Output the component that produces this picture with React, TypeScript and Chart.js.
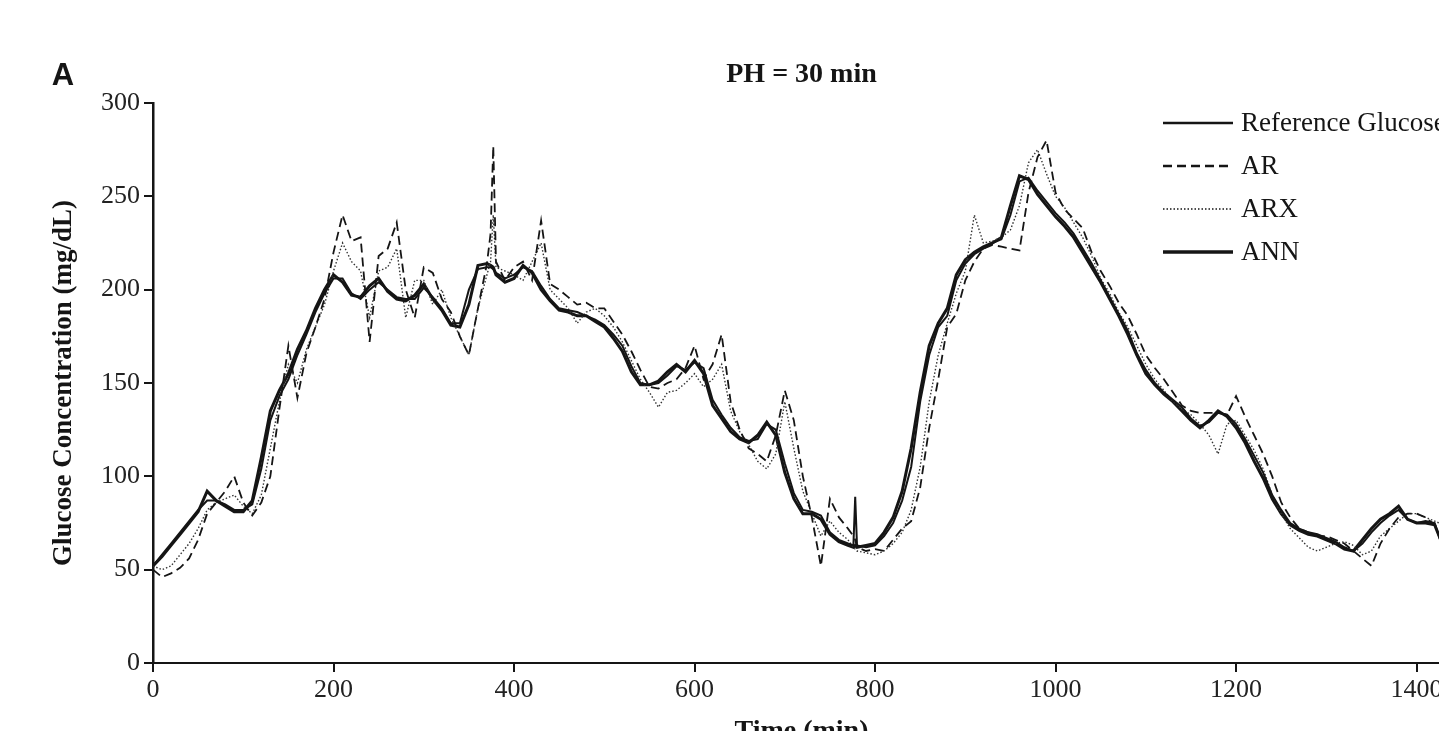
import { useEffect, useRef } from 'react';
import { Chart, registerables } from 'chart.js';

Chart.register(...registerables);

// Time (min)
const times = [
  0, 10, 20, 30, 40, 50, 60, 70, 80, 90,
  100, 110, 120, 130, 140, 150, 160, 170, 180, 190,
  200, 210, 220, 230, 240, 250, 260, 270, 280, 290,
  300, 310, 320, 330, 340, 350, 360, 370, 374, 377, 380, 390,
  400, 410, 420, 430, 440, 450, 460, 470, 480, 490,
  500, 510, 520, 530, 540, 550, 560, 570, 580, 590,
  600, 610, 620, 630, 640, 650, 660, 670, 680, 690,
  700, 710, 720, 730, 740, 750, 760, 770, 776, 778, 780, 790,
  800, 810, 820, 830, 840, 850, 860, 870, 880, 890,
  900, 910, 920, 930, 940, 950, 960, 970, 980, 990,
  1000, 1010, 1020, 1030, 1040, 1050, 1060, 1070, 1080, 1090,
  1100, 1110, 1120, 1130, 1140, 1150, 1160, 1170, 1180, 1190,
  1200, 1210, 1220, 1230, 1240, 1250, 1260, 1270, 1280, 1290,
  1300, 1310, 1320, 1330, 1340, 1350, 1360, 1370, 1380, 1390,
  1400, 1410, 1420, 1430,
];

// Glucose (mg/dL)
const referenceGlucose = [
  52, 58, 64, 70, 76, 82, 87, 87, 85, 82,
  82, 85, 104, 130, 143, 152, 165, 176, 188, 198,
  206, 206, 198, 195, 200, 204, 200, 196, 195, 195,
  201, 196, 190, 182, 182, 200, 211, 212, 212, 211, 209, 206,
  208, 212, 210, 202, 195, 190, 189, 188, 186, 184,
  181, 176, 170, 159, 150, 149, 150, 154, 159, 157,
  161, 158, 141, 133, 126, 121, 119, 120, 128, 125,
  107, 91, 82, 81, 79, 70, 66, 64, 63, 89, 63, 62,
  63, 68, 75, 87, 105, 140, 165, 180, 186, 205,
  214, 219, 222, 225, 227, 240, 258, 260, 253, 247,
  241, 236, 230, 222, 214, 205, 196, 187, 178, 166,
  157, 150, 145, 141, 137, 131, 127, 129, 134, 133,
  128, 120, 111, 102, 90, 82, 75, 72, 70, 69,
  67, 65, 62, 60, 64, 70, 75, 79, 82, 77,
  75, 76, 75, 60,
];

const arPrediction = [
  50, 46, 48, 51, 56, 66, 80, 86, 92, 100,
  86, 79, 86, 100, 136, 170, 142, 166, 180, 195,
  220, 240, 226, 228, 172, 218, 222, 236, 200, 185,
  212, 209, 195, 188, 175, 165, 190, 214, 230, 277, 215, 205,
  212, 215, 205, 237, 203, 200, 196, 192, 193, 190,
  190, 183, 176, 167, 157, 148, 147, 150, 152, 158,
  170, 152, 160, 176, 140, 125, 115, 112, 108, 122,
  146, 130, 100, 78, 52, 88, 78, 72, 68, 66, 62, 60,
  61, 60, 66, 72, 76, 94, 126, 152, 180, 187,
  205, 215, 222, 224, 223, 222, 221, 252, 271, 280,
  252, 243, 238, 233, 220, 210, 202, 193, 186, 176,
  165, 158, 152, 145, 138, 135, 134, 134, 134, 133,
  143, 132, 122, 112, 100, 86, 78, 72, 70, 68,
  68, 66, 64, 60, 56, 52, 64, 72, 78, 80,
  80, 78, 74, 70,
];

const arxPrediction = [
  52, 50, 52, 58, 64, 72, 82, 86, 88, 90,
  84, 80, 90, 115, 140, 160, 150, 168, 180, 192,
  210, 225, 215, 210, 185, 210, 212, 222, 185, 205,
  205, 192, 200, 185, 175, 165, 190, 208, 215, 240, 212, 210,
  208, 205, 215, 225, 200, 195, 190, 182, 188, 190,
  186, 180, 172, 162, 152, 145, 137, 145, 146, 150,
  155, 148, 152, 160, 135, 124, 117, 108, 104, 112,
  140, 115, 92, 80, 68, 76, 70, 66, 62, 61, 60, 59,
  58, 60, 64, 70, 82, 105, 140, 165, 182, 198,
  210, 240, 225, 226, 228, 232, 245, 268, 275, 262,
  250, 244, 236, 228, 218, 206, 198, 188, 180, 170,
  160, 152, 146, 140, 136, 133, 128, 122, 112, 128,
  130, 122, 114, 104, 90, 80, 72, 67, 62, 60,
  62, 64, 65, 63, 58, 60, 68, 72, 76, 80,
  80, 78, 76, 74,
];

const annPrediction = [
  52, 57, 63, 69, 75, 81, 92, 87, 84, 81,
  81, 87, 110, 135, 146, 155, 168, 178, 190, 200,
  208, 204, 197, 196, 202, 206, 199, 195, 194, 197,
  203, 195, 189, 181, 180, 192, 213, 214, 213, 212, 208, 204,
  206, 213, 209, 200, 194, 189, 188, 186, 186, 183,
  180, 174, 167, 156, 149, 149, 151, 156, 160, 156,
  162, 155, 138, 131, 124, 120, 118, 122, 129, 122,
  102, 88, 80, 80, 77, 69, 65, 63, 62, 63, 62, 63,
  64, 70, 78, 92, 115, 145, 170, 182, 190, 208,
  216, 220, 223, 225, 228, 245, 261, 259, 251, 245,
  239, 234, 228, 220, 212, 204, 195, 186, 176, 165,
  155, 149, 144, 140, 135, 130, 126, 130, 135, 132,
  126, 118, 108, 99, 88, 80, 74, 71, 69, 68,
  66, 64, 61, 60, 66, 72, 77, 80, 84, 77,
  75, 75, 74, 62,
];

const xTickValues = [0, 200, 400, 600, 800, 1000, 1200, 1400];
const yTickValues = [0, 50, 100, 150, 200, 250, 300];

const seriesLabels = ['Reference Glucose', 'AR', 'ARX', 'ANN'];

const INK = '#151515';
const SERIF = '"Liberation Serif", "Times New Roman", serif';

const overlayPlugin = {
  id: 'overlayText',
  afterDraw(chart: any) {
    const ctx = chart.ctx as CanvasRenderingContext2D;
    ctx.save();
    // panel letter
    ctx.fillStyle = INK;
    ctx.font = 'bold 31px "Liberation Sans", Arial, sans-serif';
    ctx.textAlign = 'center';
    ctx.textBaseline = 'middle';
    ctx.fillText('A', 63, 76);

    // legend
    const legendWidths = [2.5, 2.5, 1.4, 3.5];
    chart.data.datasets.forEach((ds: any, i: number) => {
      const y = 123 + i * 43;
      ctx.strokeStyle = INK;
      ctx.lineWidth = legendWidths[i];
      ctx.setLineDash(ds.borderDash || []);
      ctx.beginPath();
      ctx.moveTo(1163, y);
      ctx.lineTo(1233, y);
      ctx.stroke();
      ctx.setLineDash([]);
      ctx.font = `27px ${SERIF}`;
      ctx.textAlign = 'left';
      ctx.textBaseline = 'middle';
      ctx.fillStyle = INK;
      ctx.fillText(ds.label, 1241, y + 1);
    });
    ctx.restore();
  },
};

export default function App() {
  const canvasRef = useRef<HTMLCanvasElement>(null);

  useEffect(() => {
    document.body.style.margin = '0';
    document.body.style.overflow = 'hidden';
    document.body.style.background = '#ffffff';
    const toPoints = (vals: number[]) => times.map((t, i) => ({ x: t, y: vals[i] }));
    const canvas = canvasRef.current;
    if (!canvas) return;

    const chart = new Chart(canvas, {
      type: 'line',
      data: {
        datasets: [
          {
            label: seriesLabels[0],
            data: toPoints(referenceGlucose),
            borderColor: INK,
            borderWidth: 2,
            pointRadius: 0,
            tension: 0,
          },
          {
            label: seriesLabels[1],
            data: toPoints(arPrediction),
            borderColor: INK,
            borderWidth: 1.8,
            borderDash: [9, 5],
            pointRadius: 0,
            tension: 0,
          },
          {
            label: seriesLabels[2],
            data: toPoints(arxPrediction),
            borderColor: '#333',
            borderWidth: 1.4,
            borderDash: [1.5, 2],
            pointRadius: 0,
            tension: 0,
          },
          {
            label: seriesLabels[3],
            data: toPoints(annPrediction),
            borderColor: INK,
            borderWidth: 3,
            pointRadius: 0,
            tension: 0,
          },
        ],
      },
      options: {
        responsive: false,
        animation: false,
        events: [],
        layout: { padding: 0 },
        plugins: {
          legend: { display: false },
          tooltip: { enabled: false },
          title: {
            display: true,
            text: 'PH = 30 min',
            fullSize: false,
            color: INK,
            font: { family: SERIF, size: 28, weight: 'bold', lineHeight: 1.2 },
            padding: { top: 58, bottom: 11.4 },
          },
        },
        scales: {
          x: {
            type: 'linear',
            min: 0,
            max: 1437,
            afterBuildTicks: (scale: any) => {
              scale.ticks = xTickValues.map((v) => ({ value: v }));
            },
            afterFit: (scale: any) => {
              scale.height = 87;
            },
            ticks: {
              autoSkip: false,
              maxRotation: 0,
              padding: 3,
              color: '#222',
              font: { family: SERIF, size: 26 },
              callback: (v: any) => String(v),
            },
            grid: {
              display: true,
              drawOnChartArea: false,
              drawTicks: true,
              tickLength: 9,
              color: INK,
              lineWidth: 2,
            },
            border: { display: true, color: INK, width: 2 },
            title: {
              display: true,
              text: 'Time (min)',
              color: INK,
              font: { family: SERIF, size: 28, weight: 'bold', lineHeight: 1.2 },
              padding: { top: 0, bottom: 1 },
            },
          },
          y: {
            type: 'linear',
            min: 0,
            max: 300,
            afterBuildTicks: (scale: any) => {
              scale.ticks = yTickValues.map((v) => ({ value: v }));
            },
            afterFit: (scale: any) => {
              scale.width = 153;
            },
            ticks: {
              padding: 4,
              color: '#222',
              font: { family: SERIF, size: 26 },
              callback: (v: any) => String(v),
            },
            grid: {
              display: true,
              drawOnChartArea: false,
              drawTicks: true,
              tickLength: 9,
              color: INK,
              lineWidth: 2,
            },
            border: { display: true, color: INK, width: 2.5 },
            title: {
              display: true,
              text: 'Glucose Concentration (mg/dL)',
              color: INK,
              font: { family: SERIF, size: 27, weight: 'bold', lineHeight: 1.2 },
              padding: { top: 48, bottom: 0 },
            },
          },
        },
      },
      plugins: [overlayPlugin],
    });

    return () => chart.destroy();
  }, []);

  return (
    <div style={{ position: 'relative', width: 1450, height: 750 }}>
      <canvas ref={canvasRef} width={1450} height={750} style={{ display: 'block' }} />
    </div>
  );
}
